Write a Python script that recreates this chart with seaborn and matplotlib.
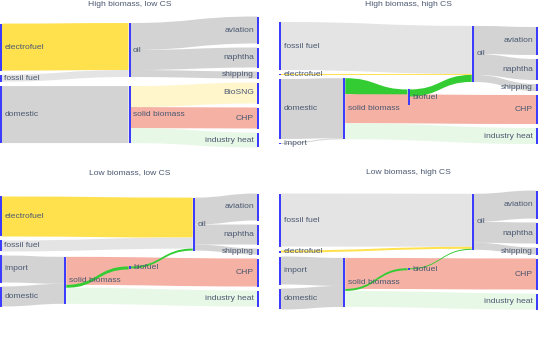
import numpy as np
import matplotlib
matplotlib.use("Agg")
import matplotlib.pyplot as plt
import seaborn as sns
from matplotlib.path import Path
from matplotlib.patches import PathPatch, Rectangle

# ---------------- data ----------------
TITLES = ["High biomass, low CS", "High biomass, high CS",
          "Low biomass, low CS", "Low biomass, high CS"]

P1_NODES = ["electrofuel", "fossil fuel", "domestic", "oil", "solid biomass",
            "aviation", "naphtha", "shipping", "BioSNG", "CHP", "industry heat"]
P1_SOURCE = ["electrofuel", "fossil fuel", "domestic", "oil", "oil", "oil",
             "solid biomass", "solid biomass", "solid biomass"]
P1_TARGET = ["oil", "oil", "solid biomass", "aviation", "naphtha", "shipping",
             "BioSNG", "CHP", "industry heat"]
P1_VALUE = [47, 7, 57, 27, 20, 7, 21, 21, 15]

P2_NODES = ["fossil fuel", "electrofuel", "domestic", "import", "solid biomass",
            "biofuel", "oil", "aviation", "naphtha", "shipping", "CHP", "industry heat"]
P2_SOURCE = ["fossil fuel", "electrofuel", "domestic", "import", "solid biomass",
             "solid biomass", "solid biomass", "biofuel", "oil", "oil", "oil"]
P2_TARGET = ["oil", "oil", "solid biomass", "solid biomass", "biofuel",
             "CHP", "industry heat", "oil", "aviation", "naphtha", "shipping"]
P2_VALUE = [48, 1, 60, 1, 16, 29, 16, 7, 28, 21, 7]

P3_NODES = ["electrofuel", "fossil fuel", "import", "domestic", "solid biomass",
            "biofuel", "oil", "aviation", "naphtha", "shipping", "CHP", "industry heat"]
P3_SOURCE = ["electrofuel", "fossil fuel", "import", "domestic", "solid biomass",
             "solid biomass", "solid biomass", "biofuel", "oil", "oil", "oil"]
P3_TARGET = ["oil", "oil", "solid biomass", "solid biomass", "CHP",
             "biofuel", "industry heat", "oil", "aviation", "naphtha", "shipping"]
P3_VALUE = [40, 11, 27, 20, 28, 3, 16, 2, 27, 20, 6]

P4_NODES = ["fossil fuel", "electrofuel", "import", "domestic", "solid biomass",
            "biofuel", "oil", "aviation", "naphtha", "shipping", "CHP", "industry heat"]
P4_SOURCE = ["fossil fuel", "electrofuel", "import", "domestic", "solid biomass",
             "solid biomass", "solid biomass", "biofuel", "oil", "oil", "oil"]
P4_TARGET = ["oil", "oil", "solid biomass", "solid biomass", "CHP",
             "biofuel", "industry heat", "oil", "aviation", "naphtha", "shipping"]
P4_VALUE = [53, 2, 28, 21, 31, 2, 16, 1, 28, 21, 7]

PANELS = [
    (P1_NODES, P1_SOURCE, P1_TARGET, P1_VALUE),
    (P2_NODES, P2_SOURCE, P2_TARGET, P2_VALUE),
    (P3_NODES, P3_SOURCE, P3_TARGET, P3_VALUE),
    (P4_NODES, P4_SOURCE, P4_TARGET, P4_VALUE),
]

# ---------------- style ----------------
GREY = "#d3d3d3"
LINK_COLORS = {
    ("electrofuel", "oil"): "#ffe14d",
    ("fossil fuel", "oil"): "#e4e4e4",
    ("domestic", "solid biomass"): GREY,
    ("import", "solid biomass"): GREY,
    ("solid biomass", "BioSNG"): "#fff6cc",
    ("solid biomass", "CHP"): "#f4b1a4",
    ("solid biomass", "industry heat"): "#e8f8e6",
    ("solid biomass", "biofuel"): "#33cc33",
    ("biofuel", "oil"): "#33cc33",
}
NODE_COLOR = "#3c3cff"
TEXT_COLOR = "#4a5870"
FONT_SIZE = 6.1

# panel boxes in pixel units: (x_left, x_right, y_center, title_y)
BOXES = [(0, 259, 82, 4.5), (279, 538, 83, 4.5),
         (0, 259, 250, 173), (279, 538, 250, 173)]

sns.set_theme(style="white")
plt.rcParams["font.family"] = ["Liberation Sans", "DejaVu Sans"]


def sankey_layout(nodes, sources, targets, values, pad=4.0, ky=1.0, iterations=32):
    n = len(nodes)
    index = {name: i for i, name in enumerate(nodes)}
    L = [{"s": index[a], "t": index[b], "v": float(v)}
         for a, b, v in zip(sources, targets, values)]
    src_links = [[] for _ in range(n)]
    tgt_links = [[] for _ in range(n)]
    for k, l in enumerate(L):
        src_links[l["s"]].append(k)
        tgt_links[l["t"]].append(k)
    val = np.array([max(sum(L[k]["v"] for k in tgt_links[i]),
                        sum(L[k]["v"] for k in src_links[i])) for i in range(n)])
    depth = np.zeros(n, int)
    for _ in range(n):
        for l in L:
            depth[l["t"]] = max(depth[l["t"]], depth[l["s"]] + 1)
    maxd = depth.max()
    for i in range(n):
        if not src_links[i]:
            depth[i] = maxd
    columns = [[i for i in range(n) if depth[i] == d] for d in range(maxd + 1)]
    H = max(val[c].sum() * ky + (len(c) - 1) * pad for c in columns)
    y0 = np.zeros(n)
    y1 = np.zeros(n)
    for c in columns:
        for j, i in enumerate(c):
            y0[i] = j
            y1[i] = j + val[i] * ky
    for l in L:
        l["w"] = l["v"] * ky

    def center(i):
        return (y0[i] + y1[i]) / 2

    def resolve():
        for c in columns:
            c.sort(key=lambda i: y0[i])
            y = 0.0
            for i in c:
                dy = y - y0[i]
                if dy > 0:
                    y0[i] += dy
                    y1[i] += dy
                y = y1[i] + pad
            dy = y - pad - H
            if dy > 0:
                last = c[-1]
                y0[last] -= dy
                y1[last] -= dy
                y = y0[last]
                for i in reversed(c[:-1]):
                    dy = y1[i] + pad - y
                    if dy > 0:
                        y0[i] -= dy
                        y1[i] -= dy
                    y = y0[i]

    resolve()
    alpha = 1.0
    for _ in range(iterations):
        alpha *= 0.99
        for c in reversed(columns):
            for i in c:
                if src_links[i]:
                    tot = sum(L[k]["v"] for k in src_links[i])
                    m = sum(center(L[k]["t"]) * L[k]["v"] for k in src_links[i]) / tot
                    d = (m - center(i)) * alpha
                    y0[i] += d
                    y1[i] += d
        resolve()
        for c in columns:
            for i in c:
                if tgt_links[i]:
                    tot = sum(L[k]["v"] for k in tgt_links[i])
                    m = sum(center(L[k]["s"]) * L[k]["v"] for k in tgt_links[i]) / tot
                    d = (m - center(i)) * alpha
                    y0[i] += d
                    y1[i] += d
        resolve()

    for i in range(n):
        yy = y0[i]
        for k in sorted(src_links[i], key=lambda k: y0[L[k]["t"]]):
            L[k]["ys"] = yy
            yy += L[k]["w"]
        yy = y0[i]
        for k in sorted(tgt_links[i], key=lambda k: y0[L[k]["s"]]):
            L[k]["yt"] = yy
            yy += L[k]["w"]
    return L, y0, y1, depth, maxd


fig = plt.figure(figsize=(5.38, 3.39), dpi=100)
ax = fig.add_axes([0, 0, 1, 1])
ax.set_xlim(0, 538)
ax.set_ylim(339, 0)
ax.axis("off")

THICK = 2.0
for (nodes, src, tgt, val), (xl, xr, yc, ty), title in zip(PANELS, BOXES, TITLES):
    L, y0, y1, depth, maxd = sankey_layout(nodes, src, tgt, val)
    off = yc - (y0.min() + y1.max()) / 2
    y0 = y0 + off
    y1 = y1 + off
    for l in L:
        l["ys"] += off
        l["yt"] += off
    xs = xl + depth / maxd * (xr - xl - THICK)

    for l in L:
        sname, tname = nodes[l["s"]], nodes[l["t"]]
        col = LINK_COLORS.get((sname, tname), GREY)
        xa = xs[l["s"]] + THICK
        xb = xs[l["t"]]
        xm = (xa + xb) / 2
        a0, b0, w = l["ys"], l["yt"], l["w"]
        verts = [(xa, a0), (xm, a0), (xm, b0), (xb, b0),
                 (xb, b0 + w), (xm, b0 + w), (xm, a0 + w), (xa, a0 + w), (xa, a0)]
        codes = [Path.MOVETO, Path.CURVE4, Path.CURVE4, Path.CURVE4,
                 Path.LINETO, Path.CURVE4, Path.CURVE4, Path.CURVE4, Path.CLOSEPOLY]
        ax.add_patch(PathPatch(Path(verts, codes), facecolor=col, edgecolor="none", lw=0))

    for i, name in enumerate(nodes):
        ax.add_patch(Rectangle((xs[i], y0[i]), THICK, max(y1[i] - y0[i], 0.8),
                               facecolor=NODE_COLOR, edgecolor="none"))
        yc_n = (y0[i] + y1[i]) / 2
        if depth[i] == maxd:
            ax.text(xs[i] - 3, yc_n, name, ha="right", va="center",
                    fontsize=FONT_SIZE, color=TEXT_COLOR)
        else:
            ax.text(xs[i] + THICK + 2.5, yc_n, name, ha="left", va="center",
                    fontsize=FONT_SIZE, color=TEXT_COLOR)

    ax.text((xl + xr) / 2, ty, title, ha="center", va="center",
            fontsize=FONT_SIZE, color=TEXT_COLOR)

fig.savefig("out.png", dpi=100)
